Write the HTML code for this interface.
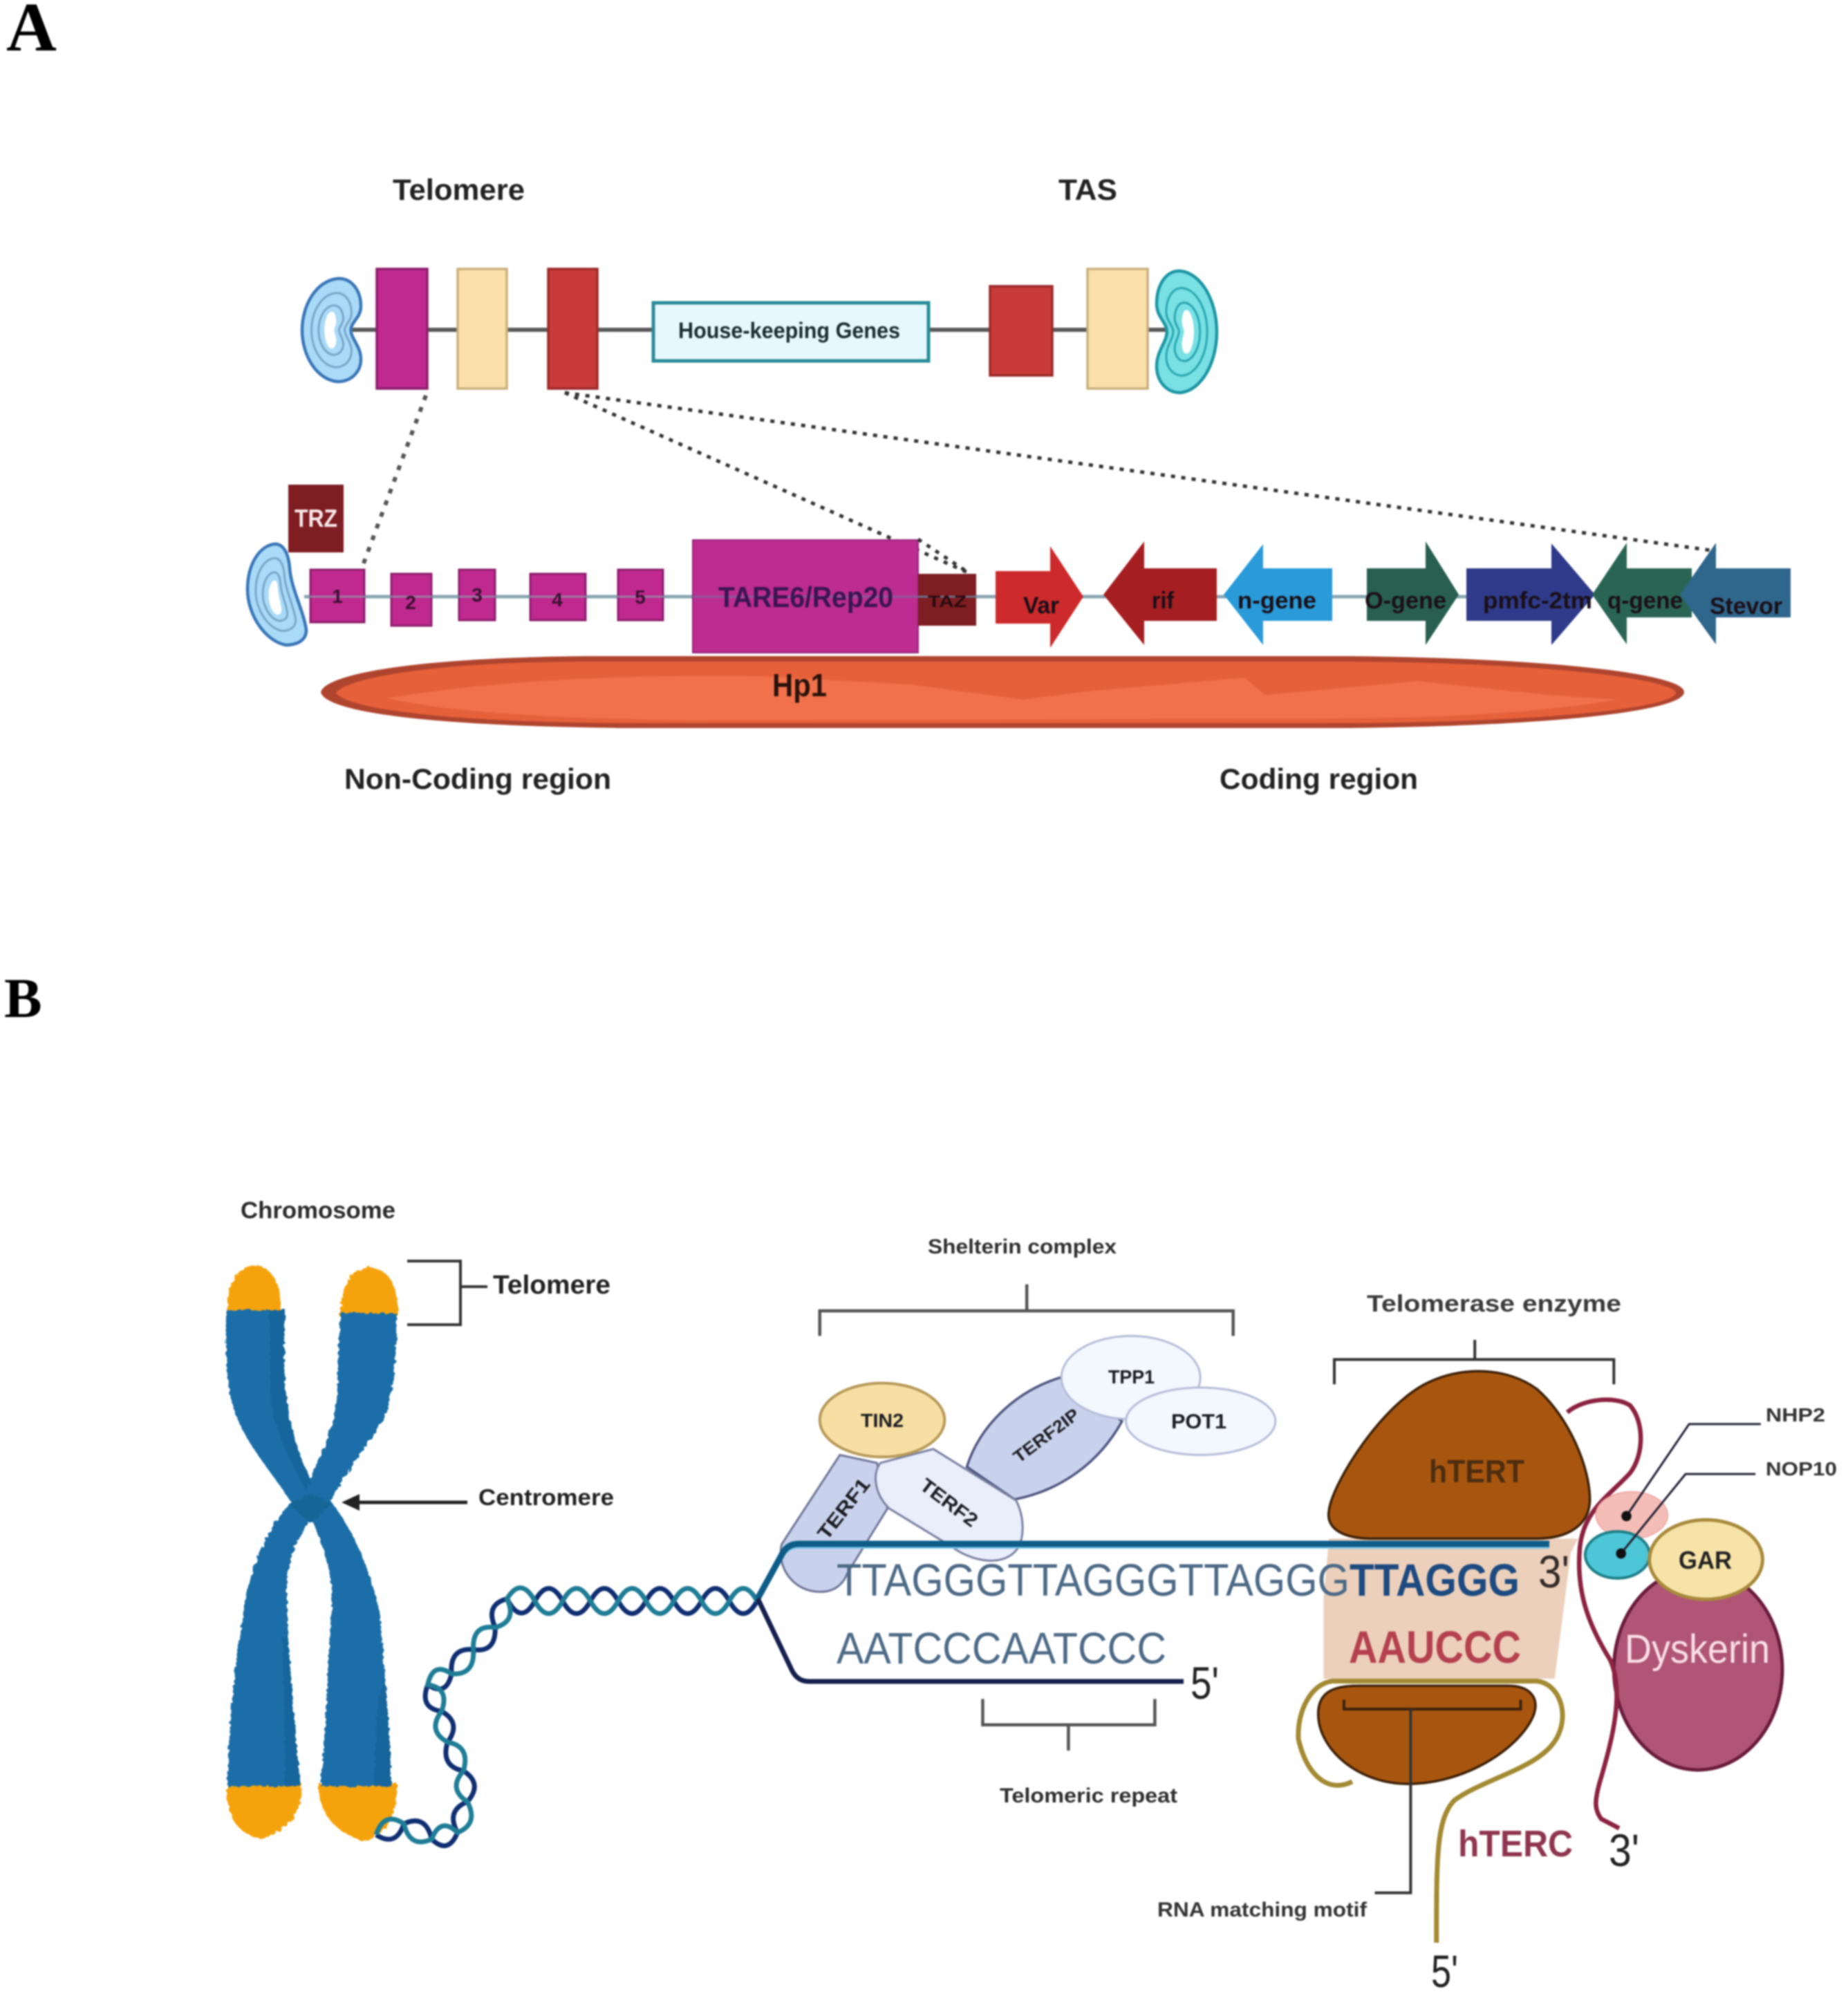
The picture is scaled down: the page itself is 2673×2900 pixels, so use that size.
<!DOCTYPE html>
<html><head><meta charset="utf-8"><style>
html,body{margin:0;padding:0;background:#fff}
svg{display:block;filter:blur(1.1px)}
text{font-family:"Liberation Sans",sans-serif}
.b{font-weight:bold}
.n path,.n ellipse,.n polyline{vector-effect:non-scaling-stroke}
.kd{vector-effect:non-scaling-stroke}
</style></head><body>
<svg xmlns="http://www.w3.org/2000/svg" width="2673" height="2900" viewBox="0 0 2673 2900">
<defs>
<path id="k" class="kd" d="M60 0 C85 -1 100 12 100 27 C100 38 83 42 83 50 C83 58 100 66 100 78 C100 90 85 100 60 100 C25 98 0 75 0 50 C0 25 25 2 60 0 Z"/>
<path id="k2" class="kd" d="M45 0 C60 -1 70 8 72 25 C75 45 95 65 100 85 C100 97 80 100 65 100 C30 96 0 70 0 45 C0 20 20 2 45 0 Z"/>
<g id="kb">
<use href="#k" style="fill:var(--b);stroke:var(--a);stroke-width:4.5"/>
<use href="#k" transform="translate(16 14) scale(.68 .72)" style="fill:var(--b);stroke:var(--c);stroke-width:3"/>
<use href="#k" transform="translate(28 26) scale(.42 .48)" style="fill:var(--b);stroke:var(--c);stroke-width:3"/>
<use href="#k" transform="translate(38 32) scale(.2 .36)" style="fill:#fff;stroke:none"/>
</g>
<g id="kb2">
<use href="#k2" style="fill:var(--b);stroke:var(--a);stroke-width:4.5"/>
<use href="#k2" transform="translate(14 14) scale(.68 .72)" style="fill:var(--b);stroke:var(--c);stroke-width:3"/>
<use href="#k2" transform="translate(26 28) scale(.42 .48)" style="fill:var(--b);stroke:var(--c);stroke-width:3"/>
<use href="#k2" transform="translate(36 36) scale(.22 .34)" style="fill:#fff;stroke:none"/>
</g>
<filter id="rough" x="-5%" y="-5%" width="110%" height="110%"><feTurbulence type="fractalNoise" baseFrequency="0.11" numOctaves="1" seed="4"/><feDisplacementMap in="SourceGraphic" scale="13"/></filter>
</defs>
<rect width="2673" height="2900" fill="#fff"/>

<!-- Panel letters -->
<text x="9" y="73" font-size="101" class="b" style="font-family:'Liberation Serif',serif" fill="#000">A</text>
<text x="6" y="1471" font-size="82" class="b" style="font-family:'Liberation Serif',serif" fill="#000">B</text>

<!-- PANEL A top -->
<text x="568" y="289" font-size="43" class="b" fill="#222" textLength="191" lengthAdjust="spacingAndGlyphs">Telomere</text>
<text x="1531" y="289" font-size="43" class="b" fill="#222" textLength="85" lengthAdjust="spacingAndGlyphs">TAS</text>
<line x1="505" y1="477" x2="1690" y2="477" stroke="#5a5a5a" stroke-width="6"/>
<g transform="translate(437 403) scale(.85 1.49)" style="--a:#3a76b8;--b:#a9daf7;--c:#7aa6c9"><use href="#kb"/></g>
<g transform="translate(1760 392) scale(-.87 1.76)" style="--a:#1d96a3;--b:#79e0e4;--c:#2aa7b0"><use href="#kb"/></g>
<rect x="545" y="389" width="73" height="173" fill="#c0298f" stroke="#8c1f6c" stroke-width="3.5"/>
<rect x="662" y="389" width="71" height="173" fill="#fae0a8" stroke="#c9b07c" stroke-width="3.5"/>
<rect x="793" y="389" width="71" height="173" fill="#c93a3a" stroke="#9c2a2a" stroke-width="3.5"/>
<rect x="945" y="438" width="398" height="84" fill="#e6f8fd" stroke="#2a8c99" stroke-width="5"/>
<text x="981" y="489" font-size="32" class="b" fill="#1d2a33" textLength="321" lengthAdjust="spacingAndGlyphs">House-keeping Genes</text>
<rect x="1432" y="414" width="90" height="129" fill="#c93a3a" stroke="#9c2a2a" stroke-width="3.5"/>
<rect x="1573" y="389" width="87" height="173" fill="#fae0a8" stroke="#c9b07c" stroke-width="3.5"/>

<!-- dotted links -->
<line x1="616" y1="572" x2="524" y2="820" stroke="#555" stroke-width="6" stroke-dasharray="7 11"/>
<line x1="817" y1="568" x2="1402" y2="829" stroke="#333" stroke-width="5" stroke-dasharray="6 9"/>
<line x1="817" y1="568" x2="2482" y2="797" stroke="#333" stroke-width="5" stroke-dasharray="6 9"/>

<!-- PANEL A lower -->
<line x1="440" y1="863" x2="2300" y2="863" stroke="#8aa6b3" stroke-width="5"/>
<rect x="417" y="701" width="80" height="98" fill="#7e1d22"/>
<text x="426" y="762" font-size="36" class="b" fill="#f7e9e9" textLength="62" lengthAdjust="spacingAndGlyphs">TRZ</text>
<g transform="translate(358 787) scale(.85 1.46)" style="--a:#3a76b8;--b:#a9daf7;--c:#7aa6c9"><use href="#kb2"/></g>
<g fill="#c0298f" stroke="#8c1f6c" stroke-width="3">
<rect x="449" y="824" width="78" height="76"/>
<rect x="566" y="830" width="58" height="75"/>
<rect x="664" y="824" width="52" height="73"/>
<rect x="767" y="830" width="80" height="67"/>
<rect x="894" y="824" width="65" height="73"/>
</g>
<line x1="440" y1="863" x2="1000" y2="863" stroke="#8aa6b3" stroke-width="3" opacity=".65"/>
<g font-size="28" class="b" fill="#3a1030" text-anchor="middle">
<text x="488" y="872">1</text><text x="594" y="881">2</text><text x="690" y="870">3</text><text x="806" y="877">4</text><text x="926" y="873">5</text>
</g>
<rect x="1002" y="781" width="326" height="163" fill="#bd2c90" stroke="#96237a" stroke-width="2"/>
<line x1="1002" y1="863" x2="1328" y2="863" stroke="#7a6aa0" stroke-width="3" opacity=".7"/>
<text x="1039" y="878" font-size="42" class="b" fill="#3a1550" textLength="253" lengthAdjust="spacingAndGlyphs">TARE6/Rep20</text>
<rect x="1328" y="830" width="84" height="75" fill="#7e1d22"/>
<line x1="1328" y1="863" x2="1412" y2="863" stroke="#6f6f85" stroke-width="3"/>
<text x="1342" y="878" font-size="24" class="b" fill="#2a0a10" textLength="56" lengthAdjust="spacingAndGlyphs">TAZ</text>
<line x1="1328" y1="780" x2="1402" y2="829" stroke="#333" stroke-width="5" stroke-dasharray="6 9"/>

<polygon points="1440,826 1519,826 1519,790 1567,863 1519,937 1519,902 1440,902" fill="#cc2a2c"/>
<polygon points="1596,860 1655,783 1655,822 1760,822 1760,898 1655,898 1655,933" fill="#a51f22"/>
<polygon points="1770,860 1827,787 1827,822 1927,822 1927,898 1827,898 1827,933" fill="#2a9ad8"/>
<polygon points="1977,822 2062,822 2062,783 2110,860 2062,933 2062,898 1977,898" fill="#285f50"/>
<polygon points="2121,822 2244,822 2244,786 2307,860 2244,933 2244,898 2121,898" fill="#2f3b8a"/>
<polygon points="2303,860 2353,785 2353,822 2447,822 2447,893 2353,893 2353,932" fill="#2a6553"/>
<polygon points="2430,860 2482,785 2482,822 2590,822 2590,893 2482,893 2482,932" fill="#2f668c"/>

<g font-size="34" class="b" fill="#1a0f18">
<text x="1480" y="887" textLength="52" lengthAdjust="spacingAndGlyphs">Var</text>
<text x="1666" y="880" textLength="32" lengthAdjust="spacingAndGlyphs">rif</text>
<text x="1790" y="880" textLength="114" lengthAdjust="spacingAndGlyphs">n-gene</text>
<text x="1974" y="880" textLength="118" lengthAdjust="spacingAndGlyphs">O-gene</text>
<text x="2145" y="880" textLength="158" lengthAdjust="spacingAndGlyphs">pmfc-2tm</text>
<text x="2325" y="880" textLength="109" lengthAdjust="spacingAndGlyphs">q-gene</text>
<text x="2473" y="888" textLength="105" lengthAdjust="spacingAndGlyphs">Stevor</text>
</g>

<!-- Hp1 -->
<path d="M464 1001 C470 975 600 951 850 949 L1950 949 C2250 952 2436 975 2436 1001 C2436 1028 2250 1050 1950 1053 L900 1053 C620 1050 470 1030 464 1001 Z" fill="#b0452f"/>
<path d="M486 1002 C500 982 620 957 850 957 L1950 957 C2230 958 2420 982 2424 1002 C2420 1024 2240 1044 1950 1046 L900 1046 C630 1044 500 1024 486 1002 Z" fill="#e6603a"/>
<path d="M560 1010 C700 985 900 975 1100 978 L1320 990 L1480 1012 L1570 1000 L1800 980 L1830 1005 L2050 985 L2240 1005 L2340 1012 C2200 1035 2050 1040 1850 1040 L1000 1042 C800 1040 650 1030 560 1010 Z" fill="#f0714a"/>
<text x="1117" y="1007" font-size="46" class="b" fill="#2a120c" textLength="79" lengthAdjust="spacingAndGlyphs">Hp1</text>

<text x="498" y="1141" font-size="42" class="b" fill="#222" textLength="386" lengthAdjust="spacingAndGlyphs">Non-Coding region</text>
<text x="1764" y="1141" font-size="42" class="b" fill="#222" textLength="287" lengthAdjust="spacingAndGlyphs">Coding region</text>

<!-- PANEL B chromosome -->
<g transform="translate(280 1700) scale(.574 .638)" class="n">
<g filter="url(#rough)">
<path d="M85 315 C82 260 95 215 150 203 C200 205 222 250 220 315 Z" fill="#f5a30f"/>
<path d="M368 320 C372 260 385 215 440 208 C495 210 518 255 514 320 Z" fill="#f5a30f"/>
<path d="M85 1378 L272 1378 C275 1440 250 1480 170 1505 C105 1490 80 1450 85 1378 Z" fill="#f5a30f"/>
<path d="M316 1378 L512 1378 C515 1450 490 1490 430 1510 C360 1490 312 1450 316 1378 Z" fill="#f5a30f"/>
<path d="M84 305 L232 305 C225 400 228 480 240 540 C255 610 275 650 295 690 C315 640 345 590 358 530 C368 470 358 400 372 312 L512 312 C512 400 505 470 490 530 C460 590 400 650 345 738 C400 800 450 900 470 1000 C480 1120 497 1260 498 1385 L320 1385 C335 1250 338 1100 350 950 C345 890 320 820 295 775 C270 810 240 860 235 920 C235 1050 255 1250 270 1385 L85 1385 C88 1250 105 1100 125 1000 C135 900 180 810 245 740 C180 650 110 590 90 490 C80 420 80 360 84 305 Z" fill="#1a6ea8"/>
<path d="M190 305 L232 305 C225 400 228 480 240 540 C255 610 275 650 295 690 L285 715 C240 640 195 570 195 480 Z" fill="#16659c"/>
<path d="M230 1385 L270 1385 C255 1250 240 1100 235 1040 L225 1050 C225 1150 235 1280 230 1385 Z" fill="#16659c"/>
<path d="M455 1385 L498 1385 C497 1300 490 1220 480 1140 L465 1200 C460 1260 455 1330 455 1385 Z" fill="#16659c"/>
<path d="M240 745 L295 720 L350 745 L295 790 Z" fill="#176597"/>
</g>
<!-- helix -->
<path d="M460 1495 Q510 1524 530 1470 Q585 1447 600 1505 Q642 1541 665 1490 Q635 1440 690 1420 Q730 1379 680 1350 Q622 1340 640 1285 Q676 1241 625 1215 Q568 1208 590 1155 Q637 1183 650 1130 Q645 1070 705 1075 Q762 1083 760 1025 Q734 973 790 960 Q825 1022 860 965 Q895 908 930 965 T1000 965 T1070 965 T1140 965 T1210 965 T1280 965 T1350 965 T1420 965" fill="none" stroke="#102f72" stroke-width="7"/>
<path d="M460 1495 Q480 1440 530 1470 Q545 1527 600 1505 Q622 1453 665 1490 Q719 1470 690 1420 Q640 1391 680 1350 Q698 1294 640 1285 Q588 1259 625 1215 Q646 1162 590 1155 Q603 1101 650 1130 Q709 1134 705 1075 Q702 1017 760 1025 Q816 1011 790 960 Q825 908 860 965 Q895 1022 930 965 T1000 965 T1070 965 T1140 965 T1210 965 T1280 965 T1350 965 T1420 965" fill="none" stroke="#1f7d96" stroke-width="7"/>
</g>

<text x="348" y="1762" font-size="34" class="b" fill="#2b2b2b" textLength="224" lengthAdjust="spacingAndGlyphs">Chromosome</text>
<polyline points="589,1824 666,1824 666,1916 589,1916" fill="none" stroke="#333" stroke-width="4"/>
<line x1="666" y1="1861" x2="705" y2="1861" stroke="#333" stroke-width="4"/>
<text x="713" y="1871" font-size="38" class="b" fill="#222" textLength="170" lengthAdjust="spacingAndGlyphs">Telomere</text>
<line x1="510" y1="2173" x2="676" y2="2173" stroke="#222" stroke-width="5"/>
<polygon points="494,2173 520,2161 520,2185" fill="#222"/>
<text x="692" y="2177" font-size="33" class="b" fill="#222" textLength="196" lengthAdjust="spacingAndGlyphs">Centromere</text>

<!-- Shelterin -->
<text x="1342" y="1813" font-size="30" class="b" fill="#2f2f2f" textLength="273" lengthAdjust="spacingAndGlyphs">Shelterin complex</text>
<g transform="translate(1100 1760) scale(.5102 .574)" class="n">
<path d="M168 300 L168 237 L1340 237 L1340 300 M755 170 L755 237" fill="none" stroke="#555" stroke-width="4.5"/>
<path d="M225 600 L60 825 C45 880 90 945 170 945 C210 945 235 925 245 900 L360 735 L330 620 Z" fill="#c9d2ec" stroke="#6f7698" stroke-width="3"/>
<path d="M585 630 C620 530 720 440 850 405 L1025 515 C960 620 850 690 720 712 Z" fill="#c9d2ec" stroke="#4f5680" stroke-width="3.5"/>
<path d="M490 585 L725 715 C750 760 750 820 720 845 C680 880 600 870 540 830 L365 735 C325 700 315 650 340 620 Z" fill="#e9eefb" stroke="#7a82a2" stroke-width="3"/>
<ellipse cx="345" cy="512" rx="177" ry="93" fill="#f7dfa3" stroke="#b89a5a" stroke-width="4"/>
<ellipse cx="1050" cy="405" rx="197" ry="105" fill="#f3f7fe" stroke="#b5bdd8" stroke-width="3"/>
<ellipse cx="1248" cy="515" rx="212" ry="85" fill="#f3f7fe" stroke="#b5bdd8" stroke-width="3"/>
<path d="M630 1215 L630 1280 L1118 1280 L1118 1215 M873 1280 L873 1345" fill="none" stroke="#555" stroke-width="4.5"/>
</g>
<g class="b" fill="#1c1c22">
<text x="1245" y="2064" font-size="28" textLength="62" lengthAdjust="spacingAndGlyphs">TIN2</text>
<text x="1603" y="2001" font-size="28" textLength="67" lengthAdjust="spacingAndGlyphs">TPP1</text>
<text x="1694" y="2066" font-size="30" textLength="80" lengthAdjust="spacingAndGlyphs">POT1</text>
<text transform="translate(1220 2182) rotate(-52)" text-anchor="middle" y="10" font-size="28" textLength="104" lengthAdjust="spacingAndGlyphs">TERF1</text>
<text transform="translate(1373 2173) rotate(37)" text-anchor="middle" y="10" font-size="28" textLength="96" lengthAdjust="spacingAndGlyphs">TERF2</text>
<text transform="translate(1513 2076) rotate(-37)" text-anchor="middle" y="9" font-size="25" textLength="112" lengthAdjust="spacingAndGlyphs">TERF2IP</text>
</g>

<!-- Beige + telomerase -->
<g transform="translate(1860 1840) scale(.5184 .676)" class="n">
<path d="M120 570 L815 570 L795 600 L750 870 L105 870 L105 700 Z" fill="#ecd0bb"/>
<path d="M120 510 C130 450 270 280 400 235 C500 200 620 205 700 250 C790 310 850 420 848 490 C845 540 790 570 700 570 L230 570 C150 568 112 545 120 510 Z" fill="#a8560f" stroke="#3d2008" stroke-width="3.5"/>
<path d="M135 240 L135 187 L915 187 L915 240 M527 145 L527 187" fill="none" stroke="#333" stroke-width="4"/>
<path d="M90 945 C90 900 130 885 200 885 L620 885 C680 885 710 910 690 950 C650 1020 500 1095 340 1095 C200 1095 90 1020 90 945 Z" fill="#a8560f" stroke="#3d2008" stroke-width="3.5"/>
<path d="M185 1090 C120 1115 60 1080 35 1000 C30 940 70 880 130 875 L700 875 C760 880 790 940 760 990 C720 1060 560 1080 470 1130 C420 1170 420 1250 420 1435" fill="none" stroke="#a38a33" stroke-width="7"/>
<path d="M162 915 L162 935 L655 935 L655 915" fill="none" stroke="#3a2210" stroke-width="4"/>
<path d="M348 935 L348 1328 L248 1328" fill="none" stroke="#333" stroke-width="4"/>
<ellipse cx="1150" cy="850" rx="235" ry="215" fill="#b05575" stroke="#6a1c3c" stroke-width="5"/>
<path d="M785 300 C830 270 920 265 960 285 C1000 320 1000 390 960 430 C900 480 830 510 820 590 C810 680 840 750 905 830 C945 900 910 1000 880 1080 C860 1130 860 1150 880 1170 L930 1190" fill="none" stroke="#8b2340" stroke-width="6.5"/>
<ellipse cx="965" cy="520" rx="100" ry="50" fill="#f5bdb8" stroke="#f0aaa5" stroke-width="2"/>
<ellipse cx="925" cy="605" rx="90" ry="50" fill="#4dc6d8" stroke="#1f7f88" stroke-width="4"/>
<ellipse cx="1172" cy="615" rx="158" ry="85" fill="#f7e3a8" stroke="#a88a3c" stroke-width="5"/>
<path d="M950 522 L1125 325 L1325 325 M935 602 L1115 432 L1310 432" fill="none" stroke="#223" stroke-width="3"/>
<ellipse cx="950" cy="522" rx="14" ry="11" fill="#111"/>
<ellipse cx="935" cy="602" rx="14" ry="11" fill="#111"/>
</g>

<!-- DNA strands -->
<path d="M1096 2315 L1130 2255 Q1138 2238 1155 2238 L2241 2238" fill="none" stroke="#79c4ea" stroke-width="4"/>
<path d="M1096 2312 L1130 2250 Q1138 2233 1155 2233 L2241 2233" fill="none" stroke="#0e5c88" stroke-width="9"/>
<path d="M1096 2312 L1145 2415 Q1153 2432 1170 2432 L1712 2432" fill="none" stroke="#16204f" stroke-width="7"/>

<text x="1210" y="2308" font-size="66" fill="#4c6a86" textLength="742" lengthAdjust="spacingAndGlyphs">TTAGGGTTAGGGTTAGGG</text>
<text x="1952" y="2308" font-size="66" class="b" fill="#1d4a80" textLength="246" lengthAdjust="spacingAndGlyphs">TTAGGG</text>
<text x="1210" y="2406" font-size="64" fill="#4c6a86" textLength="477" lengthAdjust="spacingAndGlyphs">AATCCCAATCCC</text>
<text x="1722" y="2457" font-size="66" fill="#222" textLength="41" lengthAdjust="spacingAndGlyphs">5'</text>
<text x="1446" y="2607" font-size="30" class="b" fill="#2f2f2f" textLength="257" lengthAdjust="spacingAndGlyphs">Telomeric repeat</text>

<!-- telomerase text -->
<text x="1977" y="1897" font-size="34" class="b" fill="#3a3a3a" textLength="368" lengthAdjust="spacingAndGlyphs">Telomerase enzyme</text>
<text x="2067" y="2144" font-size="46" class="b" fill="#4d2d10" textLength="138" lengthAdjust="spacingAndGlyphs">hTERT</text>
<text x="2225" y="2296" font-size="66" fill="#332a28" textLength="45" lengthAdjust="spacingAndGlyphs">3'</text>
<text x="1951" y="2405" font-size="66" class="b" fill="#b5404f" textLength="249" lengthAdjust="spacingAndGlyphs">AAUCCC</text>
<text x="2554" y="2056" font-size="28" class="b" fill="#333" textLength="86" lengthAdjust="spacingAndGlyphs">NHP2</text>
<text x="2554" y="2134" font-size="28" class="b" fill="#333" textLength="103" lengthAdjust="spacingAndGlyphs">NOP10</text>
<text x="2428" y="2269" font-size="36" class="b" fill="#222" textLength="77" lengthAdjust="spacingAndGlyphs">GAR</text>
<text x="2350" y="2405" font-size="58" fill="#f9dfe6" textLength="210" lengthAdjust="spacingAndGlyphs">Dyskerin</text>
<text x="2109" y="2685" font-size="54" class="b" fill="#8f3550" textLength="166" lengthAdjust="spacingAndGlyphs">hTERC</text>
<text x="2327" y="2699" font-size="66" fill="#222" textLength="44" lengthAdjust="spacingAndGlyphs">3'</text>
<text x="2070" y="2874" font-size="66" fill="#222" textLength="39" lengthAdjust="spacingAndGlyphs">5'</text>
<text x="1674" y="2772" font-size="30" class="b" fill="#333" textLength="303" lengthAdjust="spacingAndGlyphs">RNA matching motif</text>
</svg>
</body></html>
